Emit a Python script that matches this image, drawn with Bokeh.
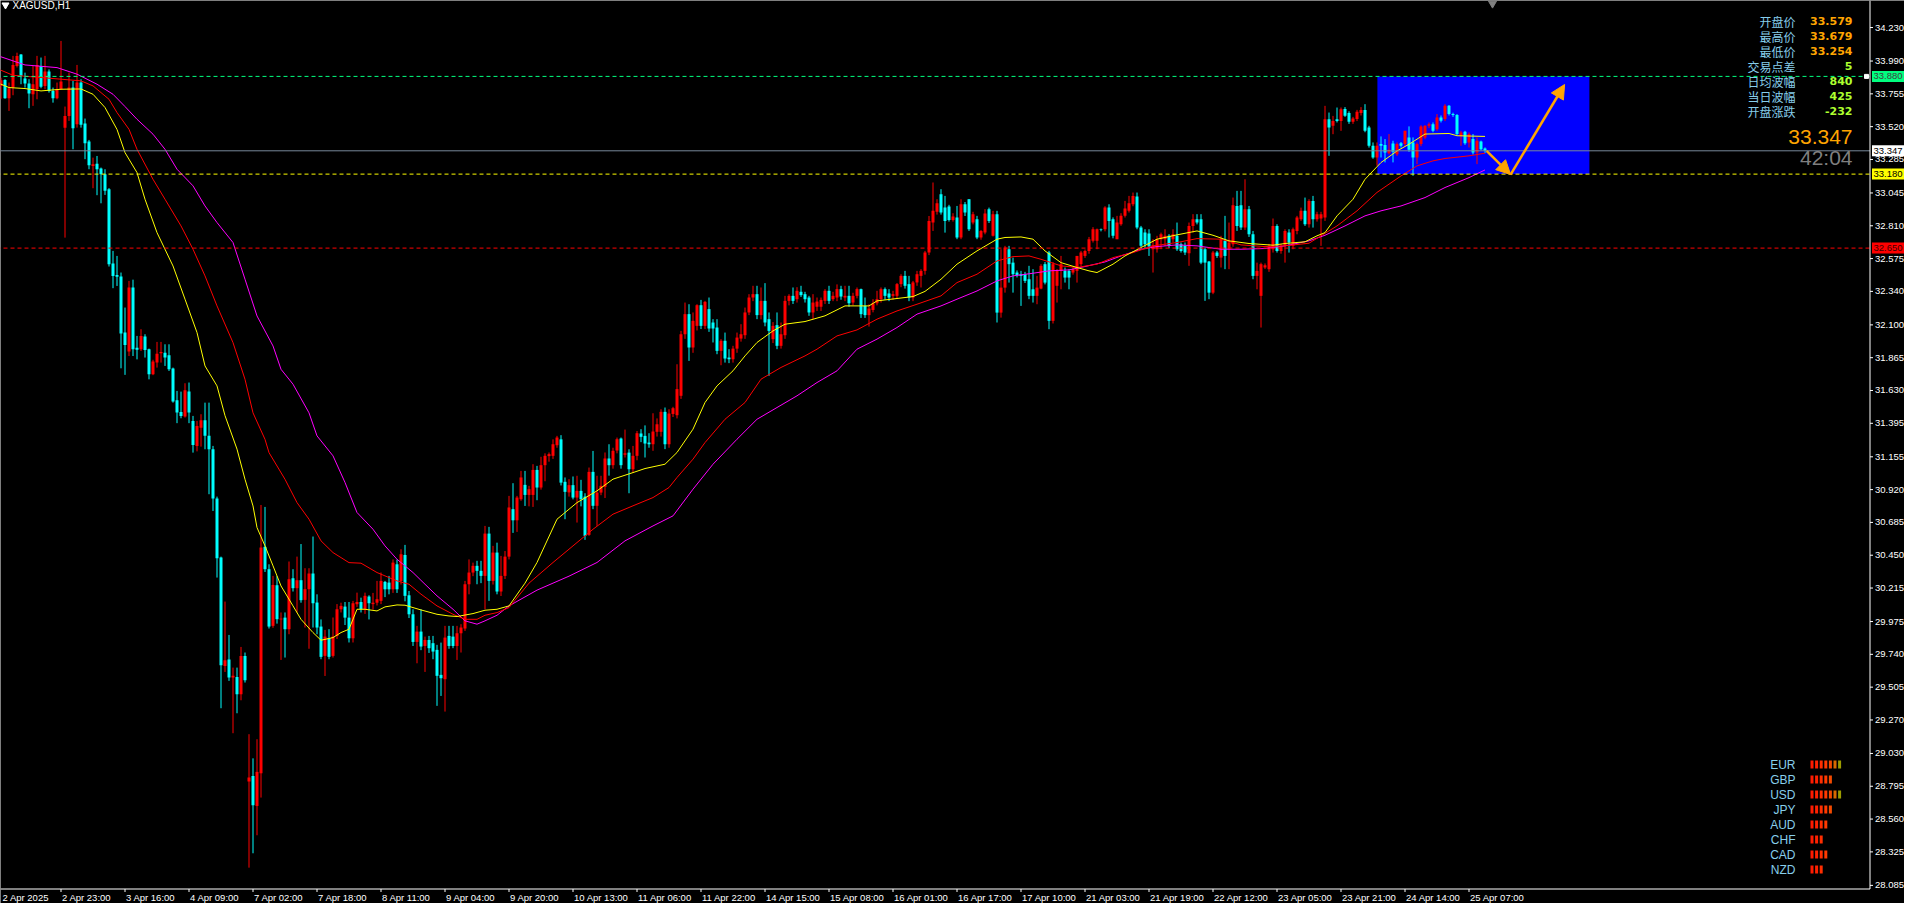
from bokeh.plotting import figure
from bokeh.models import Range1d, Label, Arrow, NormalHead, ColumnDataSource
from bokeh.embed import file_html
from bokeh.resources import INLINE

# ---------------- data ----------------
SYMBOL = "XAGUSD,H1"

OPEN = [
    33.800, 33.812, 33.855, 33.724, 33.800, 33.955, 34.036, 33.865, 33.829, 33.752,
    33.788, 33.955, 33.812, 33.915, 33.776, 33.724, 33.788, 33.513, 33.597, 33.800,
    33.537, 33.836, 33.542, 33.413, 33.239, 33.255, 33.220, 33.179, 33.072, 32.539,
    32.458, 32.446, 32.045, 31.909, 32.367, 31.937, 31.925, 32.016, 31.925, 31.746,
    31.830, 31.897, 31.901, 31.882, 31.787, 31.560, 31.476, 31.443, 31.622, 31.412,
    31.233, 31.364, 31.417, 31.305, 31.210, 30.856, 30.433, 29.657, 29.703, 29.574,
    29.578, 29.454, 29.729, 28.829, 28.869, 28.654, 28.888, 30.510, 30.350, 29.944,
    30.235, 29.990, 30.003, 29.920, 30.285, 30.214, 30.271, 30.130, 30.207, 30.319,
    30.111, 29.939, 29.729, 29.855, 29.729, 29.872, 30.063, 30.082, 30.003, 29.855,
    30.099, 30.115, 30.063, 30.154, 30.100, 30.110, 30.123, 30.259, 30.254, 30.206,
    30.385, 30.266, 30.452, 30.163, 30.027, 29.829, 29.903, 29.800, 29.843, 29.820,
    29.772, 29.593, 29.562, 29.872, 29.867, 29.800, 29.891, 29.925, 30.242, 30.326,
    30.374, 30.338, 30.302, 30.605, 30.266, 30.469, 30.190, 30.302, 30.440, 30.780,
    30.700, 30.851, 30.954, 30.882, 30.882, 31.061, 30.935, 31.095, 31.160, 31.162,
    31.238, 31.280, 30.976, 30.900, 30.952, 30.863, 30.911, 30.870, 30.596, 31.047,
    30.804, 30.899, 30.940, 31.143, 31.095, 31.200, 31.286, 31.170, 31.185, 31.066,
    31.162, 31.322, 31.305, 31.257, 31.245, 31.334, 31.334, 31.477, 31.245, 31.462,
    31.453, 31.592, 32.033, 32.177, 31.938, 32.093, 32.241, 32.093, 32.213, 32.117,
    32.081, 31.914, 31.986, 31.866, 31.854, 31.930, 32.002, 32.026, 32.189, 32.296,
    32.320, 32.170, 32.272, 32.141, 31.998, 32.098, 31.950, 32.026, 32.272, 32.308,
    32.284, 32.337, 32.320, 32.296, 32.189, 32.230, 32.230, 32.272, 32.344, 32.284,
    32.296, 32.356, 32.296, 32.308, 32.260, 32.308, 32.356, 32.236, 32.170, 32.207,
    32.255, 32.284, 32.356, 32.325, 32.308, 32.308, 32.392, 32.451, 32.392, 32.296,
    32.404, 32.451, 32.487, 32.618, 32.833, 32.910, 33.036, 32.940, 32.948, 32.852,
    32.869, 32.726, 32.964, 33.000, 32.833, 32.857, 32.726, 32.761, 32.929, 32.738,
    32.893, 32.188, 32.367, 32.642, 32.546, 32.475, 32.463, 32.463, 32.427, 32.355,
    32.308, 32.360, 32.535, 32.618, 32.129, 32.380, 32.487, 32.487, 32.487, 32.475,
    32.487, 32.535, 32.594, 32.630, 32.702, 32.702, 32.785, 32.785, 32.940, 32.857,
    32.714, 32.821, 32.881, 32.917, 32.964, 33.019, 32.797, 32.761, 32.755, 32.642,
    32.642, 32.714, 32.714, 32.738, 32.714, 32.738, 32.678, 32.666, 32.613, 32.809,
    32.857, 32.857, 32.642, 32.554, 32.331, 32.618, 32.582, 32.702, 32.642, 32.678,
    32.952, 32.957, 32.797, 32.929, 32.749, 32.451, 32.308, 32.511, 32.499, 32.642,
    32.809, 32.630, 32.666, 32.761, 32.666, 32.773, 32.857, 32.917, 32.821, 32.988,
    32.857, 32.862, 32.869, 33.573, 33.526, 33.573, 33.561, 33.646, 33.617, 33.555,
    33.574, 33.617, 33.639, 33.514, 33.383, 33.299, 33.395, 33.389, 33.330, 33.400,
    33.323, 33.402, 33.395, 33.443, 33.407, 33.299, 33.395, 33.443, 33.526, 33.538,
    33.502, 33.586, 33.574, 33.670, 33.610, 33.603, 33.455, 33.483, 33.407, 33.431,
    33.335, 33.414, 33.364,
]
HIGH = [
    33.880, 33.870, 33.860, 33.836, 34.027, 34.050, 34.040, 33.907, 33.860, 33.955,
    34.027, 34.015, 34.027, 33.930, 33.800, 33.836, 34.134, 33.664, 33.907, 33.848,
    33.962, 33.860, 33.578, 33.425, 33.298, 33.310, 33.227, 33.215, 33.080, 32.630,
    32.594, 32.475, 32.224, 32.415, 32.424, 32.021, 32.069, 32.033, 31.930, 31.850,
    31.978, 31.978, 31.961, 31.961, 31.794, 31.627, 31.622, 31.682, 31.687, 31.448,
    31.412, 31.460, 31.543, 31.543, 31.233, 30.870, 30.440, 30.118, 29.879, 29.645,
    29.645, 29.793, 29.753, 29.168, 28.995, 29.132, 30.810, 30.796, 30.385, 30.302,
    30.300, 30.040, 30.040, 30.405, 30.350, 30.440, 30.530, 30.357, 30.357, 30.584,
    30.170, 29.990, 29.915, 29.920, 30.004, 30.100, 30.110, 30.115, 30.115, 30.123,
    30.182, 30.146, 30.182, 30.163, 30.180, 30.266, 30.326, 30.266, 30.302, 30.420,
    30.420, 30.493, 30.524, 30.194, 30.063, 29.944, 30.063, 29.867, 29.872, 29.872,
    29.808, 29.824, 29.944, 29.944, 29.944, 29.944, 29.956, 30.266, 30.420, 30.397,
    30.410, 30.410, 30.660, 30.653, 30.517, 30.540, 30.445, 30.480, 30.875, 30.966,
    30.875, 31.054, 31.054, 30.947, 31.102, 31.090, 31.155, 31.180, 31.186, 31.280,
    31.305, 31.310, 31.007, 30.995, 31.014, 31.019, 30.990, 30.894, 31.078, 31.197,
    31.019, 31.019, 31.186, 31.245, 31.220, 31.293, 31.293, 31.350, 31.209, 31.233,
    31.340, 31.353, 31.380, 31.324, 31.467, 31.430, 31.496, 31.508, 31.496, 31.513,
    31.818, 32.057, 32.260, 32.248, 32.189, 32.248, 32.279, 32.272, 32.296, 32.141,
    32.141, 31.998, 32.045, 31.926, 31.950, 32.045, 32.105, 32.224, 32.320, 32.380,
    32.380, 32.368, 32.399, 32.189, 32.120, 32.189, 32.117, 32.308, 32.320, 32.368,
    32.370, 32.380, 32.337, 32.308, 32.320, 32.296, 32.296, 32.356, 32.380, 32.337,
    32.390, 32.380, 32.380, 32.380, 32.330, 32.368, 32.360, 32.296, 32.248, 32.284,
    32.344, 32.368, 32.368, 32.356, 32.344, 32.400, 32.463, 32.487, 32.451, 32.415,
    32.487, 32.499, 32.630, 32.880, 33.120, 33.000, 33.072, 33.024, 32.960, 32.900,
    32.952, 33.000, 32.980, 33.000, 32.910, 32.881, 32.780, 32.929, 32.940, 32.917,
    32.917, 32.642, 32.666, 32.666, 32.582, 32.490, 32.487, 32.480, 32.523, 32.499,
    32.451, 32.535, 32.550, 32.630, 32.550, 32.500, 32.594, 32.511, 32.500, 32.510,
    32.594, 32.630, 32.640, 32.730, 32.800, 32.790, 32.790, 32.950, 32.964, 32.870,
    32.881, 32.900, 32.988, 33.024, 33.048, 33.048, 32.809, 32.785, 32.785, 32.714,
    32.738, 32.761, 32.785, 32.750, 32.785, 32.833, 32.690, 32.690, 32.833, 32.893,
    32.893, 32.893, 32.654, 32.558, 32.630, 32.630, 32.738, 32.881, 32.833, 33.012,
    33.060, 33.060, 33.143, 32.952, 32.773, 32.546, 32.546, 32.540, 32.680, 32.862,
    32.821, 32.680, 32.785, 32.785, 32.797, 32.881, 32.940, 33.012, 33.000, 33.024,
    32.910, 32.910, 33.669, 33.621, 33.597, 33.657, 33.657, 33.660, 33.630, 33.590,
    33.640, 33.660, 33.681, 33.526, 33.407, 33.407, 33.450, 33.431, 33.467, 33.419,
    33.407, 33.410, 33.490, 33.522, 33.443, 33.407, 33.530, 33.530, 33.550, 33.550,
    33.610, 33.600, 33.681, 33.675, 33.620, 33.610, 33.490, 33.490, 33.479, 33.467,
    33.443, 33.420, 33.371,
]
LOW = [
    33.760, 33.720, 33.720, 33.633, 33.745, 33.944, 33.824, 33.800, 33.652, 33.669,
    33.716, 33.795, 33.788, 33.764, 33.692, 33.716, 33.788, 32.725, 33.561, 33.358,
    33.513, 33.513, 33.287, 33.215, 33.079, 33.029, 32.971, 33.031, 32.518, 32.363,
    32.379, 31.789, 31.742, 31.877, 31.877, 31.853, 31.913, 31.866, 31.710, 31.740,
    31.794, 31.830, 31.806, 31.770, 31.543, 31.396, 31.431, 31.436, 31.396, 31.185,
    31.194, 31.228, 31.209, 30.887, 30.767, 30.290, 29.354, 29.614, 29.550, 29.175,
    29.318, 29.411, 29.538, 28.212, 28.315, 28.444, 28.714, 30.330, 29.925, 29.930,
    29.960, 29.700, 29.717, 29.884, 30.190, 30.040, 30.110, 29.932, 29.780, 29.932,
    29.884, 29.705, 29.585, 29.705, 29.717, 29.850, 30.040, 29.950, 29.825, 29.825,
    30.080, 30.040, 30.030, 29.990, 30.060, 30.090, 30.100, 30.150, 30.170, 30.180,
    30.180, 30.240, 30.120, 30.000, 29.800, 29.676, 29.770, 29.614, 29.750, 29.705,
    29.371, 29.442, 29.330, 29.780, 29.784, 29.700, 29.753, 29.908, 30.170, 30.300,
    30.242, 30.250, 30.063, 30.123, 30.240, 30.170, 30.158, 30.280, 30.420, 30.610,
    30.617, 30.840, 30.803, 30.800, 30.796, 30.844, 30.920, 30.980, 31.120, 31.140,
    31.220, 30.950, 30.708, 30.870, 30.850, 30.684, 30.800, 30.560, 30.589, 30.780,
    30.660, 30.880, 30.860, 31.020, 31.070, 31.180, 31.070, 31.150, 30.894, 31.040,
    31.130, 31.260, 31.150, 31.220, 31.198, 31.300, 31.300, 31.210, 31.220, 31.440,
    31.430, 31.570, 32.000, 31.842, 31.900, 32.060, 32.070, 32.070, 32.050, 31.974,
    31.890, 31.811, 31.830, 31.826, 31.830, 31.900, 31.980, 32.000, 32.170, 32.270,
    32.141, 32.140, 32.090, 31.735, 31.970, 31.926, 31.930, 32.000, 32.240, 32.250,
    32.260, 32.300, 32.260, 32.165, 32.141, 32.200, 32.200, 32.250, 32.250, 32.270,
    32.270, 32.280, 32.270, 32.230, 32.240, 32.290, 32.150, 32.150, 32.088, 32.190,
    32.240, 32.260, 32.280, 32.270, 32.280, 32.290, 32.370, 32.360, 32.270, 32.270,
    32.380, 32.368, 32.460, 32.600, 32.773, 32.890, 32.890, 32.761, 32.840, 32.840,
    32.714, 32.714, 32.880, 32.773, 32.820, 32.714, 32.710, 32.749, 32.830, 32.733,
    32.117, 32.152, 32.331, 32.403, 32.331, 32.440, 32.236, 32.400, 32.284, 32.260,
    32.248, 32.355, 32.390, 32.069, 32.110, 32.260, 32.355, 32.403, 32.355, 32.460,
    32.403, 32.520, 32.580, 32.610, 32.690, 32.642, 32.770, 32.770, 32.726, 32.720,
    32.714, 32.810, 32.869, 32.905, 32.950, 32.785, 32.642, 32.642, 32.594, 32.475,
    32.618, 32.642, 32.666, 32.650, 32.690, 32.630, 32.618, 32.600, 32.523, 32.761,
    32.820, 32.535, 32.272, 32.284, 32.320, 32.580, 32.511, 32.499, 32.499, 32.660,
    32.773, 32.780, 32.780, 32.730, 32.427, 32.355, 32.081, 32.500, 32.480, 32.618,
    32.618, 32.610, 32.546, 32.618, 32.642, 32.749, 32.845, 32.809, 32.797, 32.797,
    32.840, 32.666, 32.845, 33.311, 33.466, 33.550, 33.490, 33.590, 33.540, 33.540,
    33.560, 33.600, 33.480, 33.370, 33.290, 33.240, 33.299, 33.264, 33.320, 33.264,
    33.310, 33.370, 33.380, 33.340, 33.168, 33.252, 33.380, 33.430, 33.510, 33.480,
    33.490, 33.550, 33.560, 33.600, 33.590, 33.460, 33.383, 33.390, 33.371, 33.320,
    33.252, 33.350, 33.330,
]
CLOSE = [
    33.860, 33.853, 33.724, 33.795, 33.962, 34.027, 33.884, 33.829, 33.757, 33.824,
    33.962, 33.805, 33.915, 33.776, 33.724, 33.788, 33.843, 33.597, 33.800, 33.509,
    33.836, 33.533, 33.401, 33.244, 33.251, 33.215, 33.179, 33.060, 32.534, 32.451,
    32.444, 32.038, 31.956, 32.367, 31.925, 31.922, 32.021, 31.921, 31.746, 31.837,
    31.894, 31.906, 31.866, 31.782, 31.551, 31.472, 31.448, 31.632, 31.472, 31.240,
    31.376, 31.417, 31.305, 31.210, 30.856, 30.428, 29.662, 29.698, 29.574, 29.586,
    29.454, 29.729, 29.555, 28.857, 28.659, 28.898, 30.505, 30.350, 29.939, 30.237,
    29.992, 29.996, 29.920, 30.278, 30.214, 30.271, 30.128, 30.207, 30.319, 30.106,
    29.932, 29.722, 29.867, 29.722, 29.867, 30.063, 30.087, 30.003, 29.855, 30.106,
    30.115, 30.063, 30.159, 30.106, 30.110, 30.135, 30.266, 30.206, 30.206, 30.397,
    30.206, 30.457, 30.159, 30.027, 29.829, 29.903, 29.796, 29.843, 29.784, 29.760,
    29.586, 29.569, 29.860, 29.800, 29.800, 29.891, 29.932, 30.242, 30.326, 30.374,
    30.338, 30.302, 30.605, 30.266, 30.469, 30.190, 30.302, 30.440, 30.792, 30.700,
    30.863, 31.007, 30.882, 30.923, 31.061, 30.935, 31.095, 31.162, 31.174, 31.245,
    31.293, 30.970, 30.904, 30.952, 30.863, 30.911, 30.851, 30.589, 31.047, 30.804,
    30.899, 30.947, 31.143, 31.095, 31.198, 31.281, 31.095, 31.180, 31.066, 31.162,
    31.324, 31.298, 31.250, 31.245, 31.336, 31.388, 31.477, 31.245, 31.465, 31.503,
    31.640, 32.033, 32.177, 31.938, 32.129, 32.241, 32.093, 32.265, 32.074, 32.074,
    31.914, 31.986, 31.859, 31.854, 31.930, 32.009, 32.033, 32.189, 32.296, 32.320,
    32.170, 32.272, 32.117, 32.057, 32.093, 31.950, 32.033, 32.272, 32.308, 32.272,
    32.344, 32.313, 32.284, 32.189, 32.260, 32.267, 32.279, 32.344, 32.272, 32.308,
    32.356, 32.303, 32.308, 32.255, 32.308, 32.356, 32.177, 32.170, 32.217, 32.255,
    32.284, 32.356, 32.308, 32.296, 32.320, 32.392, 32.451, 32.380, 32.296, 32.404,
    32.463, 32.487, 32.618, 32.845, 32.917, 32.972, 32.905, 32.845, 32.852, 32.876,
    32.726, 32.964, 32.905, 32.785, 32.893, 32.726, 32.773, 32.898, 32.845, 32.893,
    32.188, 32.367, 32.654, 32.535, 32.463, 32.456, 32.451, 32.415, 32.308, 32.308,
    32.367, 32.523, 32.403, 32.129, 32.535, 32.487, 32.535, 32.439, 32.439, 32.499,
    32.594, 32.618, 32.630, 32.714, 32.785, 32.785, 32.781, 32.940, 32.845, 32.738,
    32.833, 32.881, 32.933, 32.972, 33.024, 32.797, 32.666, 32.678, 32.661, 32.671,
    32.714, 32.749, 32.738, 32.666, 32.749, 32.642, 32.630, 32.618, 32.809, 32.857,
    32.833, 32.546, 32.546, 32.331, 32.618, 32.594, 32.714, 32.594, 32.690, 32.957,
    32.809, 32.797, 32.929, 32.749, 32.451, 32.487, 32.535, 32.527, 32.666, 32.809,
    32.630, 32.666, 32.773, 32.690, 32.785, 32.869, 32.917, 32.821, 32.988, 32.857,
    32.893, 32.893, 33.573, 33.514, 33.561, 33.561, 33.645, 33.598, 33.555, 33.579,
    33.627, 33.639, 33.490, 33.383, 33.299, 33.383, 33.383, 33.335, 33.354, 33.340,
    33.395, 33.383, 33.490, 33.354, 33.299, 33.395, 33.522, 33.526, 33.538, 33.490,
    33.586, 33.562, 33.670, 33.610, 33.603, 33.467, 33.479, 33.402, 33.467, 33.335,
    33.419, 33.359, 33.347,
]

# moving averages (bar index, price)
MA_FAST_X = [0, 3, 7, 11, 16, 21, 24, 27, 30, 32, 35, 37, 40, 44, 47, 50, 52, 55, 57, 60,
             62, 64, 65, 67, 69, 71, 74, 76, 79, 81, 84, 86, 88, 90, 92, 95, 97, 100, 102, 106,
             110, 113, 115, 119, 122, 125, 128, 132, 135, 140, 145, 150, 154, 159, 162, 167, 170, 174, 177, 180,
             184, 187, 190, 194, 197, 202, 207, 212, 218, 220, 225, 229, 232, 236, 240, 245, 250, 252, 256, 259,
             262, 266, 270, 273, 275, 279, 282, 286, 290, 295, 300, 304, 308, 313, 319, 322, 327, 330, 332, 335,
             339, 342, 346, 350, 353, 357, 363, 365, 372]
MA_FAST_Y = [33.836, 33.800, 33.793, 33.776, 33.788, 33.790, 33.752, 33.657, 33.500, 33.334,
             33.191, 33.000, 32.761, 32.522, 32.284, 32.045, 31.806, 31.663, 31.450, 31.210,
             30.994, 30.803, 30.648, 30.517, 30.374, 30.230, 30.087, 29.991, 29.896, 29.841,
             29.860, 29.896, 29.920, 30.063, 30.063, 30.051, 30.080, 30.094, 30.092, 30.058,
             30.027, 30.015, 30.011, 30.032, 30.056, 30.063, 30.087, 30.250, 30.398, 30.708,
             30.827, 30.911, 30.995, 31.042, 31.071, 31.102, 31.186, 31.353, 31.544, 31.663,
             31.771, 31.878, 31.974, 32.057, 32.105, 32.124, 32.165, 32.236, 32.236, 32.272,
             32.289, 32.303, 32.340, 32.427, 32.535, 32.630, 32.714, 32.726, 32.730, 32.714,
             32.630, 32.546, 32.511, 32.487, 32.475, 32.535, 32.594, 32.654, 32.714, 32.745,
             32.773, 32.742, 32.702, 32.683, 32.671, 32.683, 32.695, 32.738, 32.761, 32.881,
             33.000, 33.143, 33.263, 33.346, 33.394, 33.467, 33.471, 33.455, 33.450]
MA_MID_X = [0, 4, 11, 16, 21, 24, 28, 30, 33, 35, 39, 42, 46, 49, 52, 55, 59, 62, 64, 67,
            68, 72, 75, 78, 81, 84, 88, 91, 95, 98, 100, 103, 106, 110, 114, 117, 120, 122, 125, 128,
            133, 139, 144, 149, 154, 159, 164, 168, 170, 174, 177, 182, 187, 191, 196, 202, 205, 210, 215, 220,
            225, 230, 236, 240, 245, 250, 254, 258, 261, 266, 270, 275, 279, 284, 289, 295, 300, 306, 311, 317,
            322, 328, 331, 335, 340, 345, 351, 355, 359, 362, 368, 372]
MA_MID_Y = [33.936, 33.888, 33.872, 33.860, 33.848, 33.812, 33.716, 33.621, 33.501, 33.358,
            33.143, 33.000, 32.809, 32.642, 32.451, 32.236, 31.973, 31.710, 31.470, 31.280,
            31.185, 30.994, 30.827, 30.708, 30.553, 30.469, 30.397, 30.393, 30.326, 30.290,
            30.266, 30.242, 30.171, 30.087, 30.027, 29.991, 29.991, 30.020, 30.039, 30.075,
            30.250, 30.398, 30.517, 30.636, 30.744, 30.804, 30.863, 30.935, 31.007, 31.138,
            31.257, 31.424, 31.544, 31.711, 31.795, 31.878, 31.926, 32.021, 32.064, 32.141,
            32.200, 32.248, 32.308, 32.403, 32.463, 32.558, 32.589, 32.594, 32.570, 32.523,
            32.511, 32.535, 32.582, 32.618, 32.666, 32.690, 32.718, 32.714, 32.673, 32.661,
            32.666, 32.685, 32.738, 32.809, 32.917, 33.049, 33.167, 33.239, 33.275, 33.292,
            33.311, 33.330]
MA_SLOW_X = [0, 7, 15, 20, 25, 29, 32, 35, 39, 42, 45, 49, 52, 55, 59, 62, 65, 69, 71, 74,
             78, 80, 84, 87, 90, 94, 97, 100, 104, 107, 110, 114, 117, 120, 122, 125, 128, 135, 143, 150,
             157, 164, 169, 174, 179, 185, 190, 195, 200, 205, 210, 215, 220, 225, 230, 236, 240, 245, 250, 254,
             259, 263, 268, 272, 277, 281, 286, 290, 295, 300, 306, 311, 317, 322, 328, 332, 337, 342, 346, 351,
             357, 362, 368, 372]
MA_SLOW_Y = [34.030, 33.962, 33.943, 33.896, 33.824, 33.752, 33.664, 33.573, 33.466, 33.358,
             33.215, 33.096, 32.952, 32.833, 32.690, 32.427, 32.164, 31.949, 31.782, 31.675,
             31.470, 31.305, 31.162, 30.971, 30.756, 30.636, 30.517, 30.421, 30.326, 30.242,
             30.159, 30.063, 29.980, 29.956, 29.980, 30.020, 30.087, 30.200, 30.300, 30.398,
             30.553, 30.660, 30.732, 30.923, 31.102, 31.281, 31.424, 31.508, 31.592, 31.687,
             31.771, 31.926, 31.998, 32.081, 32.177, 32.236, 32.284, 32.343, 32.415, 32.451,
             32.470, 32.487, 32.494, 32.518, 32.551, 32.594, 32.642, 32.661, 32.673, 32.666,
             32.642, 32.642, 32.647, 32.666, 32.702, 32.742, 32.809, 32.881, 32.917, 32.952,
             33.012, 33.084, 33.155, 33.210]

TIME_TICK_BARS = [16 * k for k in range(24)]
TIME_LABELS = ["2 Apr 2025", "2 Apr 23:00", "3 Apr 16:00", "4 Apr 09:00", "7 Apr 02:00",
               "7 Apr 18:00", "8 Apr 11:00", "9 Apr 04:00", "9 Apr 20:00", "10 Apr 13:00",
               "11 Apr 06:00", "11 Apr 22:00", "14 Apr 15:00", "15 Apr 08:00", "16 Apr 01:00",
               "16 Apr 17:00", "17 Apr 10:00", "21 Apr 03:00", "21 Apr 19:00", "22 Apr 12:00",
               "23 Apr 05:00", "23 Apr 21:00", "24 Apr 14:00", "25 Apr 07:00"]
PRICE_TICKS = [34.230, 33.990, 33.755, 33.520, 33.285, 33.045, 32.810, 32.575, 32.340,
               32.100, 31.865, 31.630, 31.395, 31.155, 30.920, 30.685, 30.450, 30.215,
               29.975, 29.740, 29.505, 29.270, 29.030, 28.795, 28.560, 28.325, 28.085]

LEVEL_GREEN = 33.880
LEVEL_BID = 33.347
LEVEL_YELLOW = 33.180
LEVEL_RED = 32.650

INFO_NAMES = ["开盘价", "最高价", "最低价", "交易点差", "日均波幅", "当日波幅", "开盘涨跌"]
INFO_VALUES = ["33.579", "33.679", "33.254", "5", "840", "425", "-232"]
BIG_PRICE = "33.347"
TIMER = "42:04"

CURRENCIES = ["EUR", "GBP", "USD", "JPY", "AUD", "CHF", "CAD", "NZD"]
STRENGTH = [7, 5, 7, 5, 4, 3, 4, 3]

# zone and arrows (bar index, price)
ZONE = dict(left=345.1, right=398.1, top=33.880, bottom=33.180)
ARROW1 = (372.4, 33.347, 378.4, 33.177)
ARROW2 = (378.4, 33.177, 391.9, 33.822)

assert len(OPEN) == len(HIGH) == len(LOW) == len(CLOSE)

# ---------------- layout (reference screen pixels) ----------------
W, H = 1904, 903
PX0, PX1 = 8, 8 + W          # screen x covered by the figure
PY0, PY1 = 8, 8 + H          # screen y covered by the figure
BAR0_PX, BAR_PITCH = 4.5, 4.0
PRICE_AT_Y0, PX_PER_PRICE = 34.481, 139.6
AXIS_X, AXIS_Y = 1877.5, 896.5   # price-axis line and time-axis line
CHART_LEFT = 4

def bar_at(px):
    return (px - BAR0_PX) / BAR_PITCH

def price_at(py):
    return PRICE_AT_Y0 - py / PX_PER_PRICE

p = figure(width=W, height=H, output_backend="svg", toolbar_location=None,
           x_range=Range1d(bar_at(PX0), bar_at(PX1)),
           y_range=Range1d(price_at(PY1), price_at(PY0)),
           x_axis_location=None, y_axis_location=None, min_border=0, title=None)
p.background_fill_color = "black"
p.border_fill_color = "black"
p.outline_line_color = None
p.grid.visible = False
p.extra_x_ranges = {"rx": Range1d(PX0, PX1)}
p.extra_y_ranges = {"ry": Range1d(PY1, PY0)}

FONT = "Liberation Sans"

# zone (behind candles)
p.quad(left=[ZONE["left"]], right=[ZONE["right"]], top=[ZONE["top"]],
       bottom=[ZONE["bottom"]], fill_color="#0000FF", line_color=None)

# candles
n = len(OPEN)
xs = list(range(n))
colors = ["#FF0000" if c >= o else "#00FFFF" for o, c in zip(OPEN, CLOSE)]
src = ColumnDataSource(dict(x=xs, h=HIGH, l=LOW, col=colors,
                            top=[max(o, c) for o, c in zip(OPEN, CLOSE)],
                            bot=[min(o, c) for o, c in zip(OPEN, CLOSE)]))
p.segment(x0="x", y0="h", x1="x", y1="l", color="col", line_width=1, source=src)
p.vbar(x="x", width=0.75, top="top", bottom="bot", fill_color="col",
       line_color=None, source=src)

# moving averages
p.line(MA_SLOW_X, MA_SLOW_Y, line_color="#FF00FF", line_width=1)
p.line(MA_MID_X, MA_MID_Y, line_color="#FF0000", line_width=1)
p.line(MA_FAST_X, MA_FAST_Y, line_color="#FFFF00", line_width=1)

# horizontal levels (chart area only)
for lvl, col, dash in ((LEVEL_GREEN, "#00FF7F", "4 3"), (LEVEL_BID, "#778899", "solid"),
                       (LEVEL_YELLOW, "#FFFF00", "4 3"), (LEVEL_RED, "#FF0000", "4 3")):
    p.segment(x0=[CHART_LEFT], x1=[AXIS_X], y0=[lvl], y1=[lvl], x_range_name="rx",
              line_color=col, line_dash=dash, line_width=1)
p.scatter(x=[1874], y=[LEVEL_GREEN], x_range_name="rx", marker="square", size=4,
          color="white")

# arrows
ORANGE = "#FFA500"
for (x0, y0, x1, y1) in (ARROW1, ARROW2):
    p.add_layout(Arrow(end=NormalHead(size=14, fill_color=ORANGE, line_color=ORANGE),
                       x_start=x0, y_start=y0, x_end=x1, y_end=y1,
                       line_color=ORANGE, line_width=2.5))

# ---- price axis (right) ----
p.segment(x0=[AXIS_X], x1=[AXIS_X], y0=[PY0], y1=[AXIS_Y], x_range_name="rx",
          y_range_name="ry", line_color="white", line_width=1)
p.segment(x0=[AXIS_X] * len(PRICE_TICKS), x1=[AXIS_X + 3] * len(PRICE_TICKS),
          y0=PRICE_TICKS, y1=PRICE_TICKS, x_range_name="rx",
          line_color="white", line_width=1)
for t in PRICE_TICKS:
    p.add_layout(Label(x=AXIS_X + 5, x_range_name="rx", y=t, text="%.3f" % t,
                       text_align="left", text_baseline="middle", text_color="white",
                       text_font=FONT, text_font_size="9.5px"))

# ---- time axis (bottom) ----
p.segment(x0=[PX0], x1=[AXIS_X], y0=[AXIS_Y], y1=[AXIS_Y], x_range_name="rx",
          y_range_name="ry", line_color="white", line_width=1)
p.segment(x0=TIME_TICK_BARS, x1=TIME_TICK_BARS, y0=[AXIS_Y] * 24, y1=[AXIS_Y + 3] * 24,
          y_range_name="ry", line_color="white", line_width=1)
for b, t in zip(TIME_TICK_BARS, TIME_LABELS):
    # keep the label inside the page: never start left of the figure's edge
    left_px = max(BAR0_PX + BAR_PITCH * b + 1, PX0 + 2)
    p.add_layout(Label(x=left_px, x_range_name="rx", y=905, y_range_name="ry", text=t,
                       text_align="left", text_baseline="middle", text_color="white",
                       text_font=FONT, text_font_size="9.5px"))

# axis price tags (drawn above the tick labels)
for lvl, bg, fg in ((LEVEL_GREEN, "#00FF7F", "#404040"), (LEVEL_BID, "white", "black"),
                    (LEVEL_YELLOW, "#FFFF00", "black"), (LEVEL_RED, "#FF0000", "#400000")):
    p.rect(x=[1896.5], y=[lvl], width=34, height=11, width_units="screen",
           height_units="screen", x_range_name="rx", fill_color=bg, line_color=None,
           level="overlay")
    p.add_layout(Label(x=1881, x_range_name="rx", y=lvl, text="%.3f" % lvl,
                       text_align="left", text_baseline="middle", text_color=fg,
                       text_font=FONT, text_font_size="9.5px", level="overlay"))

# title
p.scatter(x=[13], y=[12.5], x_range_name="rx", y_range_name="ry",
          marker="inverted_triangle", size=7, color="white")
p.add_layout(Label(x=20, y=13, x_range_name="rx", y_range_name="ry", text=SYMBOL,
                   text_align="left", text_baseline="middle", text_color="white",
                   text_font=FONT, text_font_size="10px"))
# chart-shift marker
p.scatter(x=[1500], y=[11], x_range_name="rx", y_range_name="ry",
          marker="inverted_triangle", size=8, color="#808080")

# info panel
for k, (nm, val) in enumerate(zip(INFO_NAMES, INFO_VALUES)):
    yy = 28.5 + 15 * k
    p.add_layout(Label(x=1803, y=yy, x_range_name="rx", y_range_name="ry", text=nm,
                       text_align="right", text_baseline="middle", text_color="#87CEEB",
                       text_font="Noto Sans CJK SC", text_font_size="12px"))
    p.add_layout(Label(x=1860, y=yy, x_range_name="rx", y_range_name="ry", text=val,
                       text_align="right", text_baseline="middle",
                       text_color=ORANGE if k < 3 else "#ADFF2F",
                       text_font="DejaVu Sans", text_font_style="bold",
                       text_font_size="11px"))
p.add_layout(Label(x=1860, y=144, x_range_name="rx", y_range_name="ry", text=BIG_PRICE,
                   text_align="right", text_baseline="middle", text_color=ORANGE,
                   text_font=FONT, text_font_size="21px"))
p.add_layout(Label(x=1860, y=165, x_range_name="rx", y_range_name="ry", text=TIMER,
                   text_align="right", text_baseline="middle", text_color="#7F7F7F",
                   text_font=FONT, text_font_size="21px"))

# currency strength panel
BAR_COLORS = ["#FF1A00", "#FF2200", "#FF2E00", "#FF3A00", "#F24A00", "#D86A00", "#9C9C00"]
ql, qr, qt, qb, qc = [], [], [], [], []
for k, (cur, s) in enumerate(zip(CURRENCIES, STRENGTH)):
    yy = 772 + 15 * k
    p.add_layout(Label(x=1803, y=yy, x_range_name="rx", y_range_name="ry", text=cur,
                       text_align="right", text_baseline="middle", text_color="#87CEEB",
                       text_font=FONT, text_font_size="12px"))
    for j in range(s):
        left = 1818 + 4.6 * j
        ql.append(left); qr.append(left + 3); qt.append(yy - 4); qb.append(yy + 4)
        qc.append(BAR_COLORS[j])
p.quad(left=ql, right=qr, top=qt, bottom=qb, fill_color=qc, line_color=None,
       x_range_name="rx", y_range_name="ry")

open("out.html", "w").write(file_html(p, INLINE))
